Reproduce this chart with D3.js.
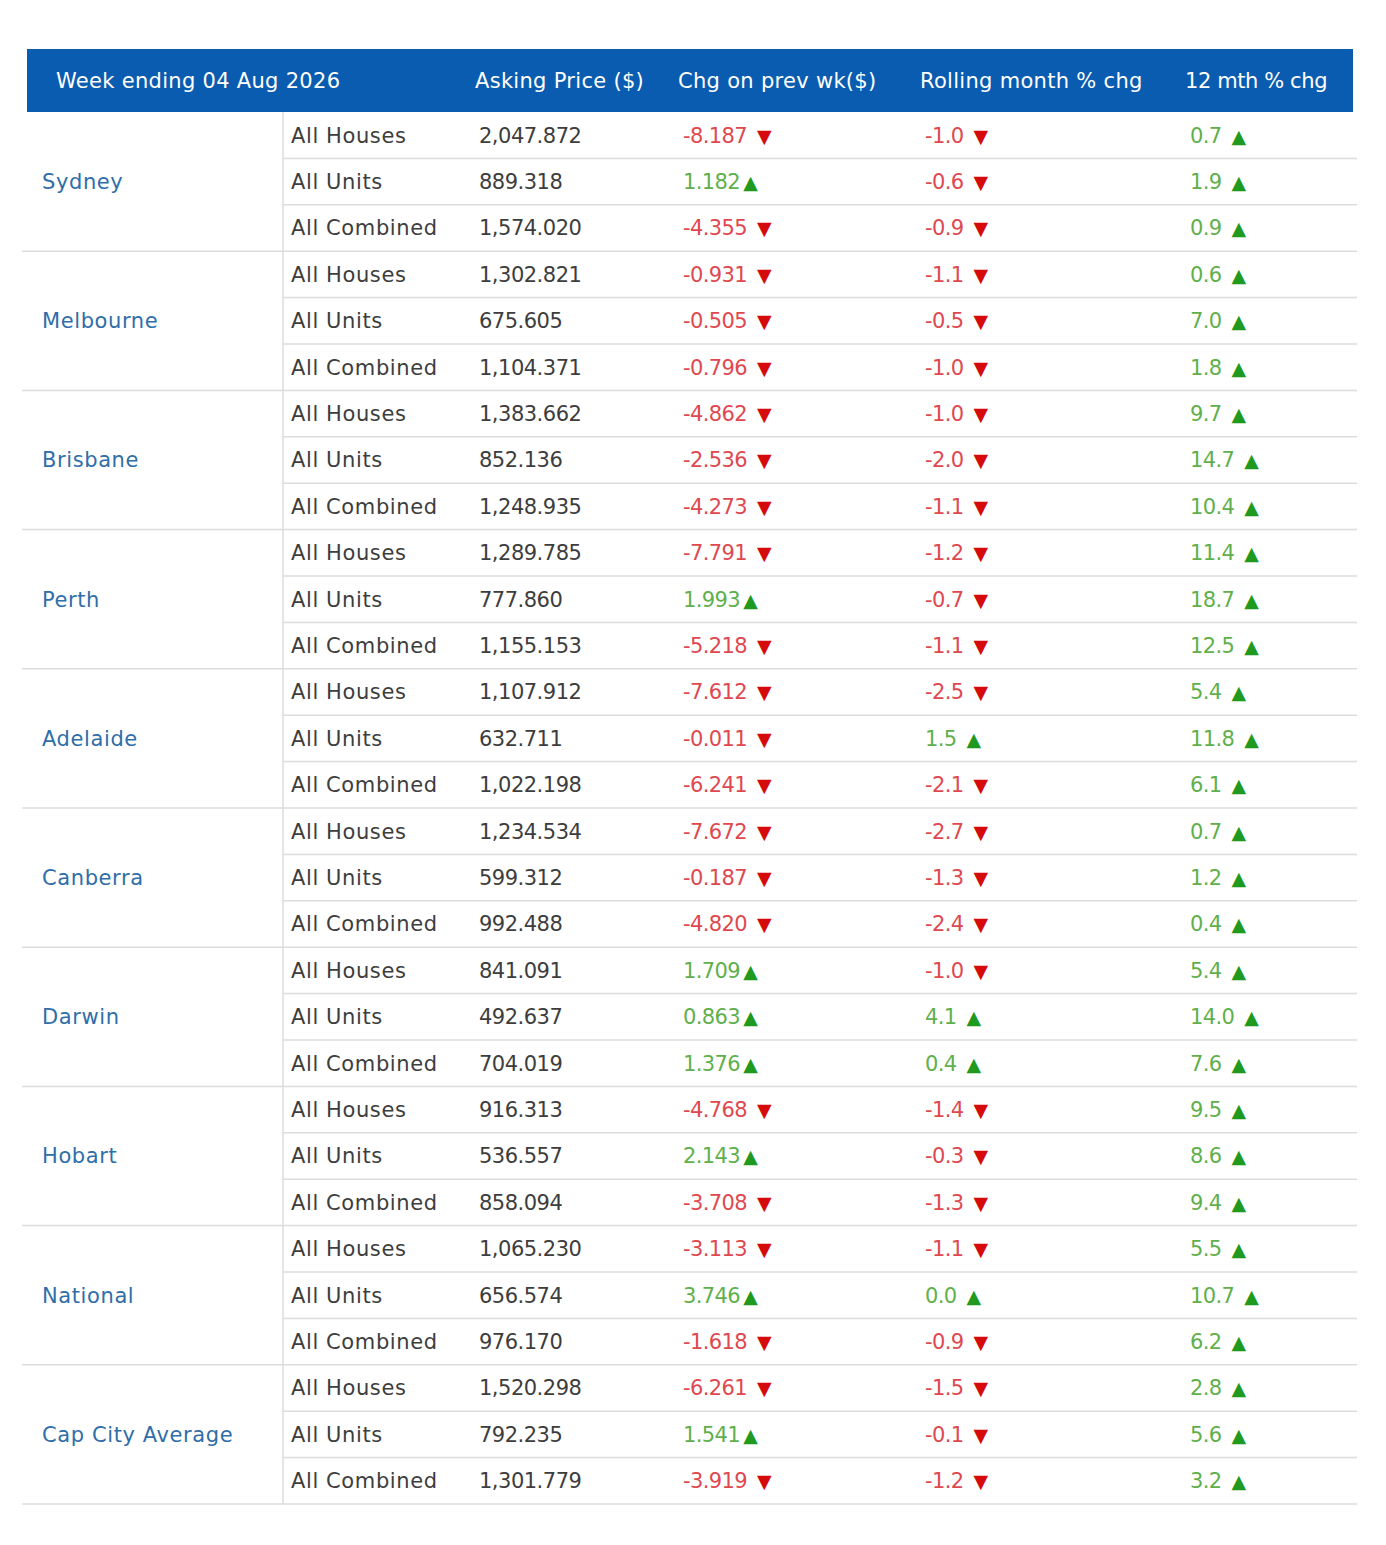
<!DOCTYPE html>
<html>
<head>
<meta charset="utf-8">
<script src="https://cdn.jsdelivr.net/npm/d3@7"></script>
<style>
  body { margin: 0; background: #fff; }
  svg { display: block; font-family: "DejaVu Sans", sans-serif; }
</style>
</head>
<body>
<svg></svg>
<script>
// Table data
let headers = ["Week ending 04 Aug 2026", "Asking Price ($)", "Chg on prev wk($)", "Rolling month % chg", "12 mth % chg"];
let cities = ["Sydney", "Melbourne", "Brisbane", "Perth", "Adelaide", "Canberra", "Darwin", "Hobart", "National", "Cap City Average"];
let types = ["All Houses", "All Units", "All Combined"];

// one value per row: city by city, houses / units / combined
let askingPrice = [
  2047.872, 889.318, 1574.020,
  1302.821, 675.605, 1104.371,
  1383.662, 852.136, 1248.935,
  1289.785, 777.860, 1155.153,
  1107.912, 632.711, 1022.198,
  1234.534, 599.312, 992.488,
  841.091, 492.637, 704.019,
  916.313, 536.557, 858.094,
  1065.230, 656.574, 976.170,
  1520.298, 792.235, 1301.779
];
let chgPrevWk = [
  -8.187, 1.182, -4.355,
  -0.931, -0.505, -0.796,
  -4.862, -2.536, -4.273,
  -7.791, 1.993, -5.218,
  -7.612, -0.011, -6.241,
  -7.672, -0.187, -4.820,
  1.709, 0.863, 1.376,
  -4.768, 2.143, -3.708,
  -3.113, 3.746, -1.618,
  -6.261, 1.541, -3.919
];
let rollingMonth = [
  -1.0, -0.6, -0.9,
  -1.1, -0.5, -1.0,
  -1.0, -2.0, -1.1,
  -1.2, -0.7, -1.1,
  -2.5, 1.5, -2.1,
  -2.7, -1.3, -2.4,
  -1.0, 4.1, 0.4,
  -1.4, -0.3, -1.3,
  -1.1, 0.0, -0.9,
  -1.5, -0.1, -1.2
];
let twelveMonth = [
  0.7, 1.9, 0.9,
  0.6, 7.0, 1.8,
  9.7, 14.7, 10.4,
  11.4, 18.7, 12.5,
  5.4, 11.8, 6.1,
  0.7, 1.2, 0.4,
  5.4, 14.0, 7.6,
  9.5, 8.6, 9.4,
  5.5, 10.7, 6.2,
  2.8, 5.6, 3.2
];

// Layout
let width = 1386;
let height = 1545;
let left = 27;
let headTop = 49;
let headBottom = 112;
let bodyBottom = 1504;
let splitX = 283;
let colX = { city: 42, type: 291, price: 479, chg: 683, roll: 925, yr: 1190 };
let headX = [56, 475, 678, 920, 1185];

let redText = "#e04850";
let greenText = "#5fb04c";
let redArrow = "#d50a0a";
let greenArrow = "#1f9a1f";

let svg = d3.select("svg").attr("width", width).attr("height", height);

let rowIndex = d3.range(cities.length * types.length);
let yScale = d3.scaleBand().domain(rowIndex).range([headBottom, bodyBottom]);
let cityScale = d3.scaleBand().domain(cities).range([headBottom, bodyBottom]);

// plain hyphen for negatives, as in the source table
let locale = d3.formatLocale({ decimal: ".", thousands: ",", grouping: [3], currency: ["$", ""], minus: "-" });
let fmtPrice = locale.format(",.3f");
let fmt3 = locale.format(".3f");
let fmt1 = locale.format(".1f");

// Header band
svg.append("rect")
  .attr("x", left).attr("y", headTop)
  .attr("width", 1353 - left).attr("height", headBottom - headTop)
  .attr("fill", "#0a5cb0");

svg.selectAll(".head")
  .data(headers)
  .join("text")
  .attr("class", "head")
  .attr("x", (d, i) => headX[i])
  .attr("y", (headTop + headBottom) / 2)
  .attr("dy", "0.35em")
  .attr("fill", "#fff")
  .attr("font-size", 21)
  .attr("letter-spacing", (d, i) => i === 4 ? -0.4 : 0.3)
  .text(d => d);

// Grid lines
let grid = svg.append("g").attr("stroke", "#dcdcdc").attr("stroke-width", 1.5);
grid.selectAll(".rowline")
  .data(rowIndex.slice(1))
  .join("line")
  .attr("x1", d => d % 3 === 0 ? 22 : splitX)
  .attr("x2", 1357)
  .attr("y1", d => yScale(d))
  .attr("y2", d => yScale(d));
grid.append("line")
  .attr("x1", 22).attr("x2", 1357)
  .attr("y1", bodyBottom).attr("y2", bodyBottom);
grid.append("line")
  .attr("x1", splitX).attr("x2", splitX)
  .attr("y1", headBottom).attr("y2", bodyBottom);

// City labels
svg.selectAll(".city")
  .data(cities)
  .join("text")
  .attr("class", "city")
  .attr("x", colX.city)
  .attr("y", d => cityScale(d) + cityScale.bandwidth() / 2)
  .attr("dy", "0.35em")
  .attr("fill", "#2f6ea8")
  .attr("font-size", 21)
  .attr("letter-spacing", 0.6)
  .text(d => d);

// Rows
let rows = svg.selectAll(".row")
  .data(rowIndex)
  .join("g")
  .attr("class", "row")
  .attr("transform", d => "translate(0," + (yScale(d) + yScale.bandwidth() / 2) + ")");

rows.append("text")
  .attr("x", colX.type)
  .attr("dy", "0.35em")
  .attr("fill", "#3d3d3d")
  .attr("font-size", 21)
  .attr("letter-spacing", 0.6)
  .text(d => types[d % 3]);

rows.append("text")
  .attr("x", colX.price)
  .attr("dy", "0.35em")
  .attr("fill", "#3d3d3d")
  .attr("font-size", 21)
  .attr("letter-spacing", -0.5)
  .text(d => fmtPrice(askingPrice[d]));

let addChange = (sel, values, x, fmt, gapUp) => {
  let t = sel.append("text")
    .attr("x", x)
    .attr("dy", "0.35em")
    .attr("font-size", 21)
    .attr("letter-spacing", -0.6);
  t.append("tspan")
    .attr("fill", d => values[d] >= 0 ? greenText : redText)
    .text(d => fmt(values[d]));
  t.append("tspan")
    .attr("fill", d => values[d] >= 0 ? greenArrow : redArrow)
    .attr("font-size", 19)
    .attr("dx", d => values[d] >= 0 && !gapUp ? 3 : 10)
    .text(d => values[d] >= 0 ? "\u25B2" : "\u25BC");
};

addChange(rows, chgPrevWk, colX.chg, fmt3, false);
addChange(rows, rollingMonth, colX.roll, fmt1, true);
addChange(rows, twelveMonth, colX.yr, fmt1, true);
</script>
</body>
</html>
